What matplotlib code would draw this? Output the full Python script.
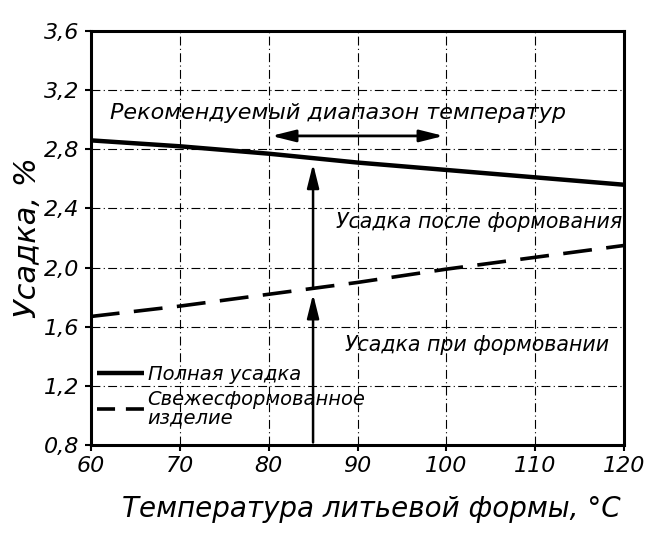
import matplotlib
matplotlib.use("Agg")
import matplotlib.pyplot as plt
from matplotlib.lines import Line2D

temps = [60, 70, 80, 90, 100, 110, 120]
full_shrink = [2.86, 2.82, 2.77, 2.71, 2.66, 2.61, 2.56]
fresh_shrink = [1.67, 1.74, 1.82, 1.90, 1.99, 2.07, 2.15]
xticks = [60, 70, 80, 90, 100, 110, 120]
yticks = [0.8, 1.2, 1.6, 2.0, 2.4, 2.8, 3.2, 3.6]
ytick_labels = ["0,8", "1,2", "1,6", "2,0", "2,4", "2,8", "3,2", "3,6"]
series_labels = ['Полная усадка', 'Свежесформованное\nизделие']
range_lo, range_hi, range_y = 80, 100, 2.89
arrow_x, arrow_base, arrow_mid, arrow_top = 85, 0.8, 1.84, 2.72

plt.rcParams['font.family'] = ['DejaVu Sans']
fig = plt.figure(figsize=(6.53, 5.41), dpi=100)
ax = fig.add_axes([0.139, 0.177, 0.817, 0.766])

ax.plot(temps, full_shrink, color='black', lw=3.2, solid_capstyle='butt')
ax.plot(temps, fresh_shrink, color='black', lw=2.6, dashes=(8, 4))

ax.set_xlim(60, 120)
ax.set_ylim(0.8, 3.6)
ax.set_xticks(xticks)
ax.set_xticklabels([str(t) for t in xticks], fontsize=16, style='italic')
ax.set_yticks(yticks)
ax.set_yticklabels(ytick_labels, fontsize=16, style='italic')
ax.tick_params(length=4, width=1.5, direction='out', pad=4)
ax.grid(True, color='black', lw=0.8, linestyle=(0, (8, 3, 1, 3)))
for s in ax.spines.values():
    s.set_linewidth(2.2)

head = '-|>,head_width=0.2,head_length=0.8'
# vertical arrows
ax.annotate('', xy=(arrow_x, arrow_mid), xytext=(arrow_x, arrow_base),
            arrowprops=dict(arrowstyle=head, color='black', lw=1.8, mutation_scale=18))
ax.annotate('', xy=(arrow_x, arrow_top), xytext=(arrow_x, arrow_mid),
            arrowprops=dict(arrowstyle=head, color='black', lw=1.8, mutation_scale=18))
# horizontal double arrow
ax.annotate('', xy=(range_hi, range_y), xytext=(range_lo, range_y),
            arrowprops=dict(arrowstyle='<|-|>,head_width=0.2,head_length=0.8', color='black', lw=2.0, mutation_scale=18))

ax.text(87.8, 3.045, 'Рекомендуемый диапазон температур', fontsize=16, style='italic',
        ha='center', va='center')
ax.text(119.8, 2.31, 'Усадка после формования', fontsize=14.8, style='italic',
        ha='right', va='center')
ax.text(118.3, 1.476, 'Усадка при формовании', fontsize=14.8, style='italic',
        ha='right', va='center')

handles = [Line2D([], [], color='black', lw=3.2, solid_capstyle='butt'),
           Line2D([], [], color='black', lw=2.6, dashes=(5, 3))]
leg = ax.legend(handles, series_labels, loc='lower left', bbox_to_anchor=(-0.01, 0.015),
                frameon=False, fontsize=14, handlelength=2.4, handletextpad=0.2,
                labelspacing=0.3, borderaxespad=0.2)
for t in leg.get_texts():
    t.set_style('italic')
    t.set_linespacing(0.95)

ax.set_xlabel('Температура литьевой формы, °C', fontsize=20, style='italic', labelpad=10)
ax.xaxis.set_label_coords(0.525, -0.12)
ax.set_ylabel('Усадка, %', fontsize=22, style='italic', labelpad=2)

fig.savefig('out.png', dpi=100)
